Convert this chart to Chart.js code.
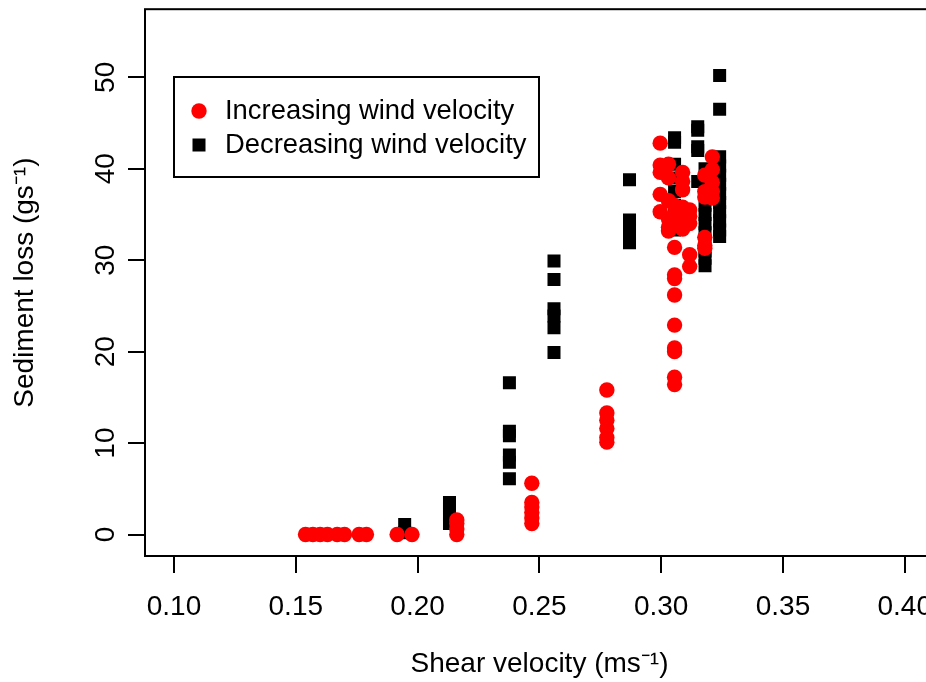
<!DOCTYPE html>
<html>
<head>
<meta charset="utf-8">
<script src="https://cdn.jsdelivr.net/npm/chart.js@4/dist/chart.umd.min.js"></script>
<style>
  html, body { margin: 0; padding: 0; background: #ffffff; overflow: hidden; }
  #wrap { width: 945px; height: 682px; }
</style>
</head>
<body>
<div id="wrap"><canvas id="chart" width="945" height="682"></canvas></div>
<script>
// Sediment loss against shear velocity, for rising and falling wind speed.

const seriesLabels = ['Increasing wind velocity', 'Decreasing wind velocity'];
const xTitle = 'Shear velocity (ms\u207B\u00B9)';
const yTitle = 'Sediment loss (gs\u207B\u00B9)';
const xTickValues = [0.10, 0.15, 0.20, 0.25, 0.30, 0.35, 0.40];
const yTickValues = [0, 10, 20, 30, 40, 50];

// Increasing wind velocity: shear velocity (m/s) and sediment loss (g/s)
const incVelocity = [
  0.154, 0.157, 0.160, 0.163, 0.167, 0.170, 0.176, 0.179, 0.1916, 0.1977,
  0.2161, 0.2161, 0.2161, 0.2161,
  0.2469, 0.2469, 0.2469, 0.2469, 0.2469, 0.2469,
  0.2777, 0.2777, 0.2777, 0.2777, 0.2777, 0.2777,
  0.2996, 0.2996, 0.2996, 0.2996, 0.2996,
  0.3030, 0.3030, 0.3030, 0.3030, 0.3030, 0.3030,
  0.3055, 0.3055, 0.3055, 0.3055, 0.3055, 0.3055, 0.3055, 0.3055, 0.3055, 0.3055, 0.3055, 0.3055,
  0.3088, 0.3088, 0.3088, 0.3088, 0.3088, 0.3088, 0.3088,
  0.3117, 0.3117, 0.3117, 0.3117, 0.3117,
  0.3179, 0.3179, 0.3179, 0.3179, 0.3179, 0.3179,
  0.3210, 0.3210, 0.3210, 0.3210, 0.3210
];
const incLoss = [
  0, 0, 0, 0, 0, 0, 0, 0, 0, 0,
  0, 0.6, 1.2, 1.6,
  5.6, 3.5, 3.0, 2.4, 1.8, 1.2,
  15.8, 13.3, 12.5, 11.6, 10.6, 10.1,
  42.8, 40.4, 39.6, 37.2, 35.3,
  40.5, 39.0, 36.5, 34.5, 33.6, 33.2,
  36.0, 35.0, 34.0, 31.4, 28.4, 28.0, 26.2, 22.9, 20.4, 20.0, 17.2, 16.4,
  39.6, 38.6, 37.7, 35.8, 35.0, 34.2, 33.4,
  35.5, 34.8, 34.0, 30.6, 29.3,
  39.3, 37.5, 36.9, 32.5, 31.6, 31.3,
  41.3, 39.9, 38.5, 37.5, 36.8
];

// Decreasing wind velocity: shear velocity (m/s) and sediment loss (g/s)
const decVelocity = [
  0.1947, 0.1947,
  0.2131, 0.2131, 0.2131, 0.2131,
  0.2377, 0.2377, 0.2377, 0.2377, 0.2377, 0.2377,
  0.2560, 0.2560, 0.2560, 0.2560, 0.2560, 0.2560,
  0.2870, 0.2870, 0.2870, 0.2870, 0.2870,
  0.3055, 0.3055, 0.3055, 0.3055, 0.3055, 0.3055, 0.3055, 0.3055,
  0.3150, 0.3150, 0.3150, 0.3150, 0.3150,
  0.3180, 0.3180, 0.3180, 0.3180, 0.3180, 0.3180, 0.3180, 0.3180, 0.3180, 0.3180, 0.3180,
  0.3240, 0.3240, 0.3240, 0.3240, 0.3240, 0.3240, 0.3240, 0.3240, 0.3240, 0.3240, 0.3240, 0.3240
];
const decLoss = [
  1.1, 0.2,
  3.5, 2.8, 2.0, 1.2,
  16.6, 11.3, 10.8, 8.7, 7.9, 6.1,
  29.9, 27.9, 24.7, 23.9, 22.6, 19.9,
  38.8, 34.4, 33.6, 32.8, 31.9,
  43.4, 42.9, 40.5, 39.0, 37.5, 36.0, 34.5, 33.3,
  44.6, 44.2, 42.4, 42.0, 38.6,
  40.0, 38.8, 37.5, 36.0, 35.0, 34.0, 33.0, 32.0, 31.0, 30.2, 29.4,
  50.2, 46.5, 41.3, 40.3, 39.3, 38.3, 37.3, 36.3, 35.3, 34.3, 33.3, 32.6
];

const FONT = "'Liberation Sans', Arial, Helvetica, sans-serif";
const TEXT_SIZE = 28;
const KEY_TEXT_SIZE = 27.4;

const toPoints = (xs, ys) => xs.map((x, i) => ({ x: x, y: ys[i] }));

// Box round the plotting region
const frame = {
  id: 'frame',
  afterDatasetsDraw(chart) {
    const { ctx, chartArea: a } = chart;
    ctx.save();
    ctx.strokeStyle = '#000';
    ctx.lineWidth = 2;
    ctx.strokeRect(a.left, a.top, a.right - a.left, a.bottom - a.top);
    ctx.restore();
  }
};

// Boxed key, its top-left corner pinned at (0.10, 50) in data units
const boxedKey = {
  id: 'boxedKey',
  afterDraw(chart) {
    const { ctx, scales } = chart;
    const left = Math.round(scales.x.getPixelForValue(0.10));
    const top = Math.round(scales.y.getPixelForValue(50));
    const w = 365, h = 100;
    ctx.save();
    ctx.fillStyle = '#fff';
    ctx.fillRect(left, top, w, h);
    ctx.strokeStyle = '#000';
    ctx.lineWidth = 2;
    ctx.strokeRect(left, top, w, h);
    ctx.font = KEY_TEXT_SIZE + 'px ' + FONT;
    ctx.textBaseline = 'middle';
    ctx.textAlign = 'left';
    chart.data.datasets.forEach((ds, i) => {
      const cy = top + 34 + i * 34;
      ctx.fillStyle = ds.backgroundColor;
      Chart.helpers.drawPoint(ctx, {
        pointStyle: ds.pointStyle, radius: ds.pointRadius, rotation: 0, borderWidth: 0
      }, left + 25, cy);
      ctx.fillStyle = '#000';
      ctx.fillText(ds.label, left + 51, cy);
    });
    ctx.restore();
  }
};

const tickGrid = {
  display: true,
  drawOnChartArea: false,
  drawTicks: true,
  tickLength: 17,
  tickWidth: 2,
  lineWidth: 2,
  color: '#000'
};

new Chart(document.getElementById('chart'), {
  type: 'scatter',
  data: {
    datasets: [
      {
        label: seriesLabels[0],
        data: toPoints(incVelocity, incLoss),
        pointStyle: 'circle',
        pointRadius: 7.7,
        pointHoverRadius: 7.7,
        borderWidth: 0,
        backgroundColor: '#ff0000',
        borderColor: '#ff0000'
      },
      {
        label: seriesLabels[1],
        data: toPoints(decVelocity, decLoss),
        pointStyle: 'rect',
        pointRadius: 9.2,
        pointHoverRadius: 9.2,
        borderWidth: 0,
        backgroundColor: '#000000',
        borderColor: '#000000'
      }
    ]
  },
  options: {
    responsive: false,
    animation: false,
    events: [],
    layout: { padding: { left: 0, top: 9, right: 11, bottom: 0 } },
    plugins: {
      legend: { display: false },
      tooltip: { enabled: false }
    },
    scales: {
      x: {
        type: 'linear',
        min: 0.0881,
        max: 0.412,
        border: { display: false },
        grid: tickGrid,
        afterBuildTicks(scale) { scale.ticks = xTickValues.map(v => ({ value: v })); },
        afterFit(scale) {
          scale.height = 126;
          scale.paddingLeft = 0; scale.paddingRight = 0;
        },
        ticks: {
          maxRotation: 0,
          minRotation: 0,
          autoSkip: false,
          padding: 17,
          color: '#000',
          font: { family: FONT, size: TEXT_SIZE },
          callback: v => v.toFixed(2)
        },
        title: {
          display: true,
          text: xTitle,
          color: '#000',
          font: { family: FONT, size: TEXT_SIZE },
          padding: { top: 0, bottom: 1 }
        }
      },
      y: {
        type: 'linear',
        min: -2.35,
        max: 57.45,
        border: { display: false },
        grid: tickGrid,
        afterBuildTicks(scale) { scale.ticks = yTickValues.map(v => ({ value: v })); },
        afterFit(scale) {
          scale.width = 145;
          scale.paddingTop = 0; scale.paddingBottom = 0;
        },
        ticks: {
          minRotation: 90,
          maxRotation: 90,
          crossAlign: 'center',
          autoSkip: false,
          padding: 6,
          color: '#000',
          font: { family: FONT, size: TEXT_SIZE },
          callback: v => String(v)
        },
        title: {
          display: true,
          text: yTitle,
          color: '#000',
          font: { family: FONT, size: TEXT_SIZE },
          padding: { top: 8, bottom: 0 }
        }
      }
    }
  },
  plugins: [frame, boxedKey]
});
</script>
</body>
</html>
